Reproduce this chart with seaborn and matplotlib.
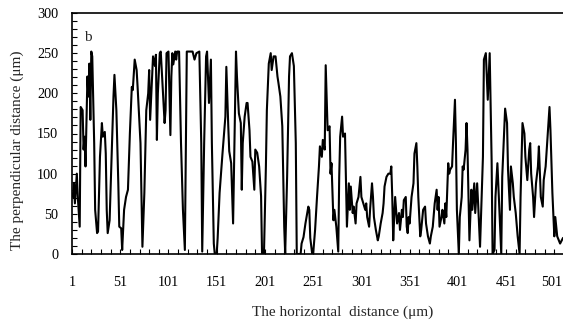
import matplotlib
matplotlib.use("Agg")
import matplotlib.pyplot as plt
import matplotlib.transforms as mtransforms
import seaborn as sns
import pandas as pd
from matplotlib.ticker import FixedLocator, MultipleLocator

# ---- data ----
x_pos = [
    1, 2, 3, 4, 6, 7, 9, 10, 12, 13, 14, 15, 17, 18, 19, 20, 21, 22, 24, 25, 27, 28, 30, 32, 33, 35, 36, 37, 38, 40,
    42, 44, 45, 47, 49, 50, 52, 53, 55, 57, 59, 61, 63, 64, 66, 68, 69, 72, 74, 76, 78, 80, 81,
    82, 85, 87, 88, 89, 90, 92, 93, 95, 97, 98, 99, 101, 102, 103, 104, 105, 106, 108, 109, 110, 112, 114, 116, 118,
    119, 120, 126, 128, 130, 133, 135, 136, 138, 140, 141, 142, 143, 145, 146, 148, 149, 151, 152, 154, 157, 160, 161,
    163, 164, 166, 168, 171, 172, 174, 176, 177, 178, 180, 182, 183, 185, 186, 188, 190, 191, 193, 195, 197, 198, 200,
    202, 203, 205, 207, 208, 210, 212, 214, 215, 217, 219, 221, 222, 224, 226, 227, 229, 231, 233, 234, 238, 239, 241,
    243, 246, 247, 248, 250, 251, 253,
    255, 257, 258, 260, 261, 263, 264, 266, 268, 269, 270, 272, 273, 275, 277, 278, 279, 281, 282, 284, 285, 286, 288,
    289, 290, 292, 293, 295, 296, 298, 300, 301, 303, 305, 306, 307, 309, 310, 312, 313, 314, 316, 318, 319, 321, 323,
    324, 325, 327, 329,
    331, 332, 333, 334, 335, 336, 337, 338, 340, 341, 343, 344, 345, 347, 348, 349, 350, 351, 353, 355, 356, 358, 359,
    360, 362, 363, 365, 367, 368, 370, 372, 373, 375, 377, 379, 380, 381, 382, 384, 385, 387, 388, 389, 391, 392, 393,
    395, 396, 398, 399, 400, 402, 403, 405, 406, 407, 409, 410, 411,
    413, 415, 416, 418, 419, 421, 422, 424, 427, 428, 430, 432, 434, 436, 437, 439, 440, 442, 444, 446, 447, 450, 452,
    453, 455, 456, 458, 459, 461, 463, 465, 466, 468, 470, 471, 473, 475, 476, 477, 479, 480, 482, 484, 485, 487, 489,
    490, 492, 494, 496, 497, 499, 501, 502, 504, 507, 510,
]
distance = [
    75, 71, 88, 63, 100, 71, 34, 183, 179, 130, 146, 109, 221, 196, 237, 167, 252, 246, 138, 55, 26, 28, 121, 163, 146,
    152, 125, 55, 26, 42, 117, 196, 223, 179, 88, 34, 32, 5, 55, 71, 80, 150, 208, 204, 242, 229, 208, 138, 9, 76,
    179, 200, 229,
    167, 246, 234, 248, 142, 200, 250, 252, 208, 163, 179, 250, 252, 200, 148, 221, 250, 236, 252, 242, 252, 252, 138,
    55, 5, 130, 252, 252, 242, 250, 252, 138, 3, 138, 246, 252, 221, 188, 242, 138, 13, 0, 0, 20, 76, 125, 171, 233,
    159, 128, 113, 38, 252, 221, 175, 163, 80, 138, 171, 188, 188, 154, 121, 115, 80, 130, 126, 109, 72, 1, 0, 109,
    179, 237, 250, 229, 246, 246, 221, 213, 196, 159, 34, 0, 96, 221, 246, 250, 234, 138, 0, 0, 13, 21, 38, 59, 55,
    20, 0, 0, 30,
    71, 109, 134, 121, 142, 130, 235, 154, 159, 100, 113, 42, 55, 34, 3, 96, 146, 171, 146, 150, 92, 34, 88, 55, 84,
    51, 59, 38, 63, 71, 96, 71, 63, 55, 63, 46, 34, 55, 88, 71, 46, 30, 17, 22, 38, 51, 63, 84, 96, 100,
    100, 109, 71, 17, 46, 71, 55, 38, 51, 30, 55, 46, 67, 71, 34, 26, 46, 38, 71, 88, 125, 138, 109, 71, 22, 30, 55,
    59, 38, 22, 13, 22, 34, 63, 80, 55, 71, 34, 46, 55, 38, 63, 46, 113, 100, 105, 109, 138, 192, 138, 55, 0, 46, 71,
    109, 105, 130, 163, 130,
    17, 80, 55, 88, 51, 88, 63, 9, 121, 242, 250, 192, 250, 117, 0, 5, 71, 113, 55, 0, 96, 181, 163, 105, 55, 109, 88,
    71, 51, 22, 0, 71, 163, 150, 121, 92, 130, 138, 100, 71, 46, 88, 109, 134, 71, 59, 92, 109, 146, 183, 154, 76, 22,
    46, 22, 13, 20,
]
x_tick_values = [1, 51, 101, 151, 201, 251, 301, 351, 401, 451, 501]
y_tick_values = [0, 50, 100, 150, 200, 250, 300]

assert len(x_pos) == len(distance)
df = pd.DataFrame({"x": x_pos, "y": distance})

sns.set_style("ticks")
plt.rcParams["font.family"] = ["Liberation Serif", "DejaVu Serif"]

fig = plt.figure(figsize=(5.63, 3.24), dpi=100)
ax = fig.add_axes([72 / 563, 1 - 254 / 324, 491 / 563, 241 / 324])

sns.lineplot(data=df, x="x", y="y", color="black", linewidth=1.5,
             estimator=None, sort=False, ax=ax)

ax.set_xlim(1, 510)
ax.set_ylim(0, 300)
ax.xaxis.set_major_locator(FixedLocator(x_tick_values))
ax.set_xticklabels([str(v) for v in x_tick_values])
ax.xaxis.set_minor_locator(FixedLocator(list(range(1, 511, 10))))
ax.yaxis.set_major_locator(FixedLocator(y_tick_values))
ax.set_yticklabels([str(v) for v in y_tick_values])
ax.yaxis.set_minor_locator(MultipleLocator(10))
ax.tick_params(which="both", direction="in", length=3.5, width=0.8,
               labelsize=10.3, colors="black")
ax.tick_params(axis="x", which="both", pad=16)
ax.tick_params(axis="y", which="both", pad=10)

# keep the last x tick label inside the figure edge
last_lbl = ax.get_xticklabels()[-1]
last_lbl.set_transform(last_lbl.get_transform() +
                       mtransforms.ScaledTranslation(-3 / 100, 0, fig.dpi_scale_trans))

for side in ["left", "bottom", "top"]:
    ax.spines[side].set_linewidth(1.2)
    ax.spines[side].set_color("black")
ax.spines["right"].set_visible(False)

ax.text(0.024, 0.90, "b", transform=ax.transAxes, fontsize=11, va="center", ha="left")

ax.set_xlabel("The horizontal  distance (\u03bcm)", fontsize=11)
ax.set_ylabel("The perpendicular distance (\u03bcm)", fontsize=11)
ax.xaxis.set_label_coords(0.552, -0.215)
ax.yaxis.set_label_coords(-0.098, 0.43)

fig.savefig("out.png", dpi=100)
